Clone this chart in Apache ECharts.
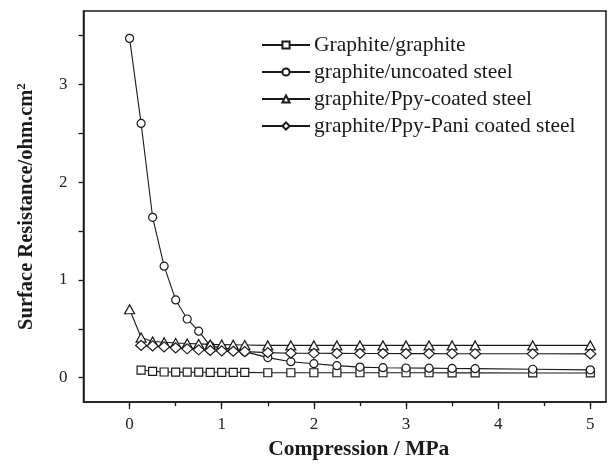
<!DOCTYPE html>
<html>
<head>
<meta charset="utf-8">
<script src="https://cdn.jsdelivr.net/npm/echarts@6/dist/echarts.min.js"></script>
<style>html,body{margin:0;padding:0;background:#fff;}#c{width:614px;height:465px;}</style>
</head>
<body>
<div id="c"></div>
<script>
// Data
const xValues = [0, 0.125, 0.25, 0.375, 0.5, 0.625, 0.75, 0.875, 1, 1.125, 1.25, 1.5, 1.75, 2, 2.25, 2.5, 2.75, 3, 3.25, 3.5, 3.75, 4.375, 5];
const seriesNames = ['Graphite/graphite', 'graphite/uncoated steel', 'graphite/Ppy-coated steel', 'graphite/Ppy-Pani coated steel'];
const graphiteGraphite = [null, 0.078, 0.065, 0.058, 0.057, 0.056, 0.056, 0.055, 0.055, 0.055, 0.054, 0.05, 0.05, 0.05, 0.05, 0.05, 0.05, 0.05, 0.05, 0.049, 0.049, 0.048, 0.048];
const uncoatedSteel = [3.47, 2.6, 1.64, 1.14, 0.795, 0.60, 0.475, 0.325, 0.305, 0.29, 0.266, 0.205, 0.163, 0.143, 0.123, 0.108, 0.102, 0.099, 0.097, 0.094, 0.092, 0.086, 0.08];
const ppyCoated = [0.70, 0.41, 0.37, 0.362, 0.354, 0.35, 0.345, 0.34, 0.338, 0.336, 0.334, 0.33, 0.33, 0.33, 0.33, 0.33, 0.33, 0.33, 0.33, 0.33, 0.33, 0.33, 0.33];
const ppyPaniCoated = [null, 0.33, 0.325, 0.315, 0.305, 0.295, 0.285, 0.278, 0.274, 0.27, 0.266, 0.256, 0.25, 0.249, 0.248, 0.247, 0.247, 0.246, 0.246, 0.245, 0.245, 0.244, 0.243];
const xTickValues = [0, 0.5, 1, 1.5, 2, 2.5, 3, 3.5, 4, 4.5, 5];
const xLabelValues = [0, 1, 2, 3, 4, 5];
const yTickValues = [0, 0.5, 1, 1.5, 2, 2.5, 3, 3.5];
const yLabelValues = [0, 1, 2, 3];

const ink = '#1a1a1a';
const font = '"Liberation Serif", "Times New Roman", serif';

function pairs(ys) {
  const out = [];
  ys.forEach((y, i) => { if (y !== null) out.push([xValues[i], y]); });
  return out;
}
const allSeries = [graphiteGraphite, uncoatedSteel, ppyCoated, ppyPaniCoated];
const symbols = ['rect', 'circle', 'triangle', 'diamond'];
const sizes = [8, 8, [10, 9], [11, 10]];

const chart = echarts.init(document.getElementById('c'), null, {renderer: 'canvas'});
chart.setOption({
  animation: false,
  backgroundColor: '#fff',
  grid: {left: 83.5, top: 11, right: 8, bottom: 62.5, show: true, borderColor: ink, borderWidth: 1.5, backgroundColor: 'transparent'},
  legend: {
    orient: 'vertical', left: 256, top: 29,
    itemWidth: 48, itemHeight: 9, itemGap: 5,
    textStyle: {fontFamily: font, fontSize: 21.5, color: ink, padding: [0, 0, 0, -1]},
    data: seriesNames
  },
  xAxis: [{
    type: 'value', min: -0.5, max: 5.17,
    axisLine: {show: true, onZero: false, lineStyle: {color: ink, width: 1.5}},
    axisTick: {show: true, inside: false, length: 4, customValues: xTickValues, lineStyle: {color: ink, width: 1.3}},
    axisLabel: {customValues: xLabelValues, margin: 14, fontFamily: font, fontSize: 17, color: '#222'},
    splitLine: {show: false},
    name: 'Compression / MPa', nameLocation: 'middle', nameGap: 34,
    nameTextStyle: {fontFamily: font, fontSize: 21.5, fontWeight: 'bold', color: ink, padding: [0, 0, 0, 28]}
  }, {
    type: 'value', min: -0.5, max: 5.17, position: 'bottom',
    axisLine: {show: false, onZero: false},
    axisTick: {show: true, inside: false, length: 7, customValues: xLabelValues, lineStyle: {color: ink, width: 1.3}},
    axisLabel: {show: false},
    splitLine: {show: false}
  }],
  yAxis: {
    type: 'value', min: -0.25, max: 3.75,
    axisLine: {show: true, onZero: false, lineStyle: {color: ink, width: 1.5}},
    axisTick: {show: true, inside: false, length: 5, customValues: yTickValues, lineStyle: {color: ink, width: 1.3}},
    axisLabel: {customValues: yLabelValues, margin: 16, fontFamily: font, fontSize: 17, color: '#222'},
    splitLine: {show: false},
    name: 'Surface Resistance/ohm.cm{sup|2}', nameLocation: 'middle', nameGap: 45,
    nameTextStyle: {
      fontFamily: font, fontSize: 20.5, fontWeight: 'bold', color: ink,
      rich: {sup: {fontFamily: font, fontSize: 13, fontWeight: 'bold', color: ink, verticalAlign: 'top', padding: [0, 0, 10, 0]}}
    }
  },
  series: allSeries.map((ys, i) => ({
    name: seriesNames[i],
    type: 'line',
    xAxisIndex: 0,
    data: pairs(ys),
    symbol: symbols[i],
    symbolSize: sizes[i],
    showAllSymbol: true,
    lineStyle: {color: ink, width: 1.1},
    itemStyle: {color: '#fff', borderColor: ink, borderWidth: 1.2},
    z: 2 + i
  }))
});
</script>
</body>
</html>
